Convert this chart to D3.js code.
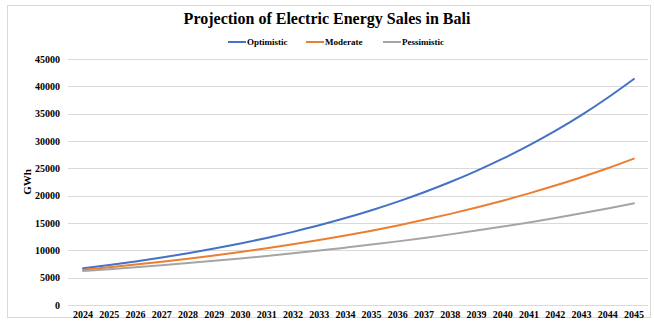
<!DOCTYPE html>
<html>
<head>
<meta charset="utf-8">
<script src="https://cdn.jsdelivr.net/npm/d3@7"></script>
<style>
  html, body { margin: 0; padding: 0; background: #fff; }
  text { font-family: "Liberation Serif", "Times New Roman", serif; font-weight: bold; fill: #000; }
</style>
</head>
<body>
<svg id="chart" width="654" height="322"></svg>
<script>
const years = ["2024","2025","2026","2027","2028","2029","2030","2031","2032","2033","2034",
               "2035","2036","2037","2038","2039","2040","2041","2042","2043","2044","2045"];
const optimistic = [6710, 7300, 7960, 8680, 9460, 10320, 11250, 12270, 13380, 14580, 15900,
                    17340, 18910, 20630, 22500, 24550, 26780, 29210, 31860, 34750, 37920, 41350];
const moderate = [6460, 6910, 7400, 7920, 8470, 9060, 9700, 10380, 11100, 11880, 12710,
                  13600, 14560, 15580, 16670, 17830, 19080, 20420, 21850, 23380, 25010, 26770];
const pessimistic = [6220, 6550, 6900, 7270, 7670, 8080, 8510, 8970, 9450, 9950, 10490,
                     11050, 11640, 12260, 12920, 13610, 14340, 15110, 15920, 16770, 17670, 18600];
const yTicks = [0, 5000, 10000, 15000, 20000, 25000, 30000, 35000, 40000, 45000];
const seriesNames = ["Optimistic", "Moderate", "Pessimistic"];
const seriesColors = ["#4472c4", "#ed7d31", "#a5a5a5"];
const title = "Projection of Electric Energy Sales in Bali";
const yTitle = "GWh";

(function () {
const series = [optimistic, moderate, pessimistic];
const svg = d3.select("#chart");

// outer frame
svg.append("rect").attr("x", 7.5).attr("y", 5.5).attr("width", 643).attr("height", 312)
  .attr("fill", "#fff").attr("stroke", "#d9d9d9").attr("stroke-width", 1);

const pLeft = 68, pRight = 648, pTop = 59, pBottom = 305;
const x = d3.scaleBand().domain(years).range([pLeft + 2, pRight - 1]);
const y = d3.scaleLinear().domain([0, 45000]).range([pBottom, pTop]);

// gridlines
svg.append("g").selectAll("line").data(yTicks).join("line")
  .attr("x1", pLeft).attr("x2", pRight)
  .attr("y1", d => Math.round(y(d)) + 0.5).attr("y2", d => Math.round(y(d)) + 0.5)
  .attr("stroke", "#d9d9d9").attr("stroke-width", 1);

// y axis labels
const yAxis = d3.axisLeft(y).tickValues(yTicks).tickSize(0).tickPadding(0).tickFormat(d3.format("d"));
const gy = svg.append("g").attr("transform", `translate(60,0)`).call(yAxis);
gy.select(".domain").remove();
gy.selectAll("text").attr("font-size", 10).attr("font-family", "Liberation Serif").attr("font-weight", "bold").attr("fill", "#000");

// x axis labels
const xAxis = d3.axisBottom(x).tickSize(0).tickPadding(0);
const gx = svg.append("g").attr("transform", `translate(0,${pBottom + 6})`).call(xAxis);
gx.select(".domain").remove();
gx.selectAll("text").attr("font-size", 10).attr("font-family", "Liberation Serif").attr("font-weight", "bold").attr("fill", "#000");

// lines
const line = d3.line()
  .x((d, i) => x(years[i]) + x.bandwidth() / 2)
  .y(d => y(d))
  .curve(d3.curveMonotoneX);
svg.append("g").selectAll("path").data(series).join("path")
  .attr("d", d => line(d))
  .attr("fill", "none")
  .attr("stroke", (d, i) => seriesColors[i])
  .attr("stroke-width", 2)
  .attr("stroke-linecap", "round");

// title
svg.append("text").attr("x", 327).attr("y", 24).attr("text-anchor", "middle")
  .attr("font-size", 16).text(title);

// legend
const legendX = [228, 306, 383];
const lg = svg.append("g").selectAll("g").data(seriesNames).join("g")
  .attr("transform", (d, i) => `translate(${legendX[i]},42)`);
lg.append("line").attr("x1", 0).attr("x2", 18).attr("y1", 0).attr("y2", 0)
  .attr("stroke", (d, i) => seriesColors[i]).attr("stroke-width", 2);
lg.append("text").attr("x", 19).attr("y", 3).attr("font-size", 9).text(d => d);

// y title
svg.append("text").attr("transform", "translate(31,182) rotate(-90)")
  .attr("text-anchor", "middle").attr("font-size", 11).text(yTitle);
})();
</script>
</body>
</html>
